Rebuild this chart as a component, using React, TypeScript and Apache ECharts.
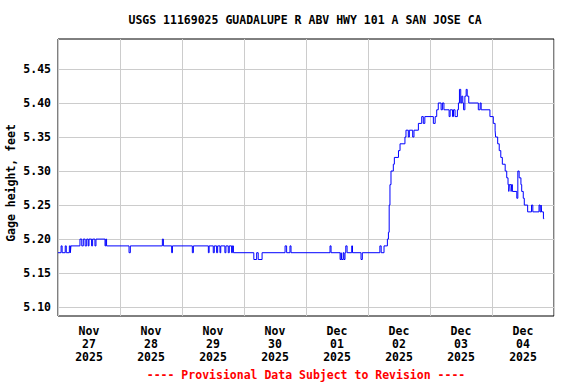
import React, { useEffect, useRef } from "react";
import * as echarts from "echarts";

const chartTitle = "USGS 11169025 GUADALUPE R ABV HWY 101 A SAN JOSE CA";
const yAxisName = "Gage height, feet";
const footerText = "---- Provisional Data Subject to Revision ----";

// x axis in hours since Nov 27 2025 00:00
const dayMonths = ["Nov", "Nov", "Nov", "Nov", "Dec", "Dec", "Dec", "Dec"];
const dayNumbers = ["27", "28", "29", "30", "01", "02", "03", "04"];
const dayYears = ["2025", "2025", "2025", "2025", "2025", "2025", "2025", "2025"];
const dayGridHours = [0, 24, 48, 72, 96, 120, 144, 168, 192];
const dayLabelHours = [12, 36, 60, 84, 108, 132, 156, 180];

const yTickValues = [5.1, 5.15, 5.2, 5.25, 5.3, 5.35, 5.4, 5.45];
const yMin = 5.087;
const yMax = 5.494;

// change points: gage height holds from each hour until the next one
const stepHours = [
  0, 1.2, 1.6, 2.8, 3.2, 4.4, 4.8, 5.0, 8.5, 9.2, 9.8, 10.5, 11.1, 11.7, 12.0, 13.0,
  13.4, 14.3, 14.7, 18.2, 18.5, 18.8, 27.5, 28.0, 40.4, 40.8, 44.0, 44.3, 52.0, 52.4,
  58.2, 58.5, 60.1, 60.5, 61.4, 61.8, 62.7, 63.0, 64.6, 65.0, 65.9, 66.3, 67.2, 67.5,
  67.9, 75.8, 76.9, 77.5, 79.0, 87.9, 88.5, 89.8, 90.2, 105.3, 105.7, 109.2, 109.6,
  109.8, 110.4, 110.7, 111.1, 111.4, 111.9, 113.7, 114.0, 117.3, 117.8, 124.6, 125.1,
  126.2, 127.5, 127.9, 128.2, 128.5, 128.9, 129.8, 130.2, 131.8, 132.4, 134.3, 134.7,
  135.6, 136.0, 137.3, 137.8, 139.5, 140.8, 141.4, 142.0, 145.3, 146.0, 146.6, 147.2,
  148.3, 148.8, 149.4, 151.4, 151.8, 152.7, 153.1, 153.7, 154.6, 155.0, 155.4, 155.9,
  156.3, 156.7, 157.0, 157.5, 158.0, 158.4, 159.0, 162.7, 163.4, 163.8, 167.2, 168.5,
  169.2, 169.4, 170.2, 170.8, 171.4, 172.0, 173.1, 173.7, 174.2, 174.5, 174.7, 175.4,
  175.6, 175.9, 177.6, 178.0, 178.5, 179.2, 179.5, 180.1, 180.5, 181.8, 183.3, 183.8,
  186.2, 186.6, 187.0, 187.2, 187.9, 188.2,
];
const gageHeights = [
  5.18, 5.19, 5.18, 5.19, 5.18, 5.19, 5.18, 5.19, 5.2, 5.19, 5.2, 5.19, 5.2, 5.19, 5.2, 5.19,
  5.2, 5.19, 5.2, 5.19, 5.2, 5.19, 5.18, 5.19, 5.2, 5.19, 5.18, 5.19, 5.18, 5.19,
  5.18, 5.19, 5.18, 5.19, 5.18, 5.19, 5.18, 5.19, 5.18, 5.19, 5.18, 5.19, 5.18, 5.19,
  5.18, 5.17, 5.18, 5.17, 5.18, 5.19, 5.18, 5.19, 5.18, 5.19, 5.18, 5.17, 5.18,
  5.17, 5.18, 5.17, 5.18, 5.19, 5.18, 5.19, 5.18, 5.17, 5.18, 5.19, 5.18,
  5.19, 5.2, 5.21, 5.25, 5.28, 5.3, 5.31, 5.32, 5.33, 5.34, 5.35, 5.36,
  5.35, 5.36, 5.35, 5.36, 5.37, 5.38, 5.37, 5.38, 5.37, 5.38, 5.39, 5.4,
  5.39, 5.4, 5.39, 5.38, 5.39, 5.38, 5.39, 5.38, 5.39, 5.4, 5.42, 5.4,
  5.41, 5.4, 5.39, 5.41, 5.42, 5.41, 5.4, 5.39, 5.4, 5.39, 5.38, 5.37,
  5.36, 5.35, 5.34, 5.33, 5.32, 5.31, 5.3, 5.29, 5.28, 5.27, 5.28, 5.27,
  5.28, 5.27, 5.26, 5.3, 5.29, 5.28, 5.27, 5.26, 5.25, 5.24, 5.25, 5.24,
  5.25, 5.24, 5.25, 5.24, 5.23, 5.23,
];

const FONT = "'DejaVu Sans Mono', 'Liberation Mono', monospace";

export default function App() {
  const ref = useRef<HTMLDivElement>(null);

  useEffect(() => {
    if (!ref.current) return;
    const chart = echarts.init(ref.current, null, { renderer: "svg" });
    const data = stepHours.map((h, i) => [h, gageHeights[i]]);
    const labelFor = (v: number) => {
      const i = dayLabelHours.indexOf(Math.round(v));
      if (i < 0) return "";
      return `${dayMonths[i]}\n${dayNumbers[i]}\n${dayYears[i]}`;
    };
    chart.setOption({
      animation: false,
      backgroundColor: "#ffffff",
      textStyle: { fontFamily: FONT },
      grid: {
        left: 58,
        right: 22,
        top: 39,
        bottom: 68,
        show: true,
        borderColor: "#000000",
        borderWidth: 1,
        backgroundColor: "transparent",
      },
      xAxis: {
        type: "value",
        min: 0,
        max: 192,
        axisLine: { show: false },
        axisTick: { show: false, customValues: dayGridHours },
        splitLine: { show: true, lineStyle: { color: "#cccccc", width: 1 } },
        axisLabel: {
          customValues: dayLabelHours,
          formatter: labelFor,
          fontFamily: FONT,
          fontWeight: "bold",
          fontSize: 11.5,
          lineHeight: 13,
          color: "#000000",
          margin: 8,
        },
      },
      yAxis: {
        type: "value",
        min: yMin,
        max: yMax,
        axisLine: { show: false },
        axisTick: { show: false, customValues: yTickValues },
        splitLine: { show: true, lineStyle: { color: "#cccccc", width: 1 } },
        axisLabel: {
          customValues: yTickValues,
          formatter: (v: number) => v.toFixed(2),
          fontFamily: FONT,
          fontWeight: "bold",
          fontSize: 11.5,
          color: "#000000",
          margin: 7,
        },
      },
      graphic: [
        {
          type: "text",
          x: 305,
          y: 20,
          style: {
            text: chartTitle,
            font: `bold 11.5px ${FONT}`,
            fill: "#000000",
            textAlign: "center",
            textVerticalAlign: "middle",
          },
        },
        {
          type: "text",
          x: 11,
          y: 183,
          rotation: Math.PI / 2,
          style: {
            text: yAxisName,
            font: `bold 11.5px ${FONT}`,
            fill: "#000000",
            textAlign: "center",
            textVerticalAlign: "middle",
          },
        },
        {
          type: "text",
          x: 306,
          y: 375,
          style: {
            text: footerText,
            font: `bold 11.5px ${FONT}`,
            fill: "#ff0000",
            textAlign: "center",
            textVerticalAlign: "middle",
          },
        },
      ],
      series: [
        {
          type: "line",
          step: "end",
          data,
          showSymbol: false,
          symbol: "none",
          lineStyle: { color: "#0000ff", width: 1 },
          silent: true,
        },
      ],
    });
    return () => chart.dispose();
  }, []);

  return (
    <div
      ref={ref}
      style={{ position: "fixed", left: 0, top: 0, width: 576, height: 384 }}
    />
  );
}
